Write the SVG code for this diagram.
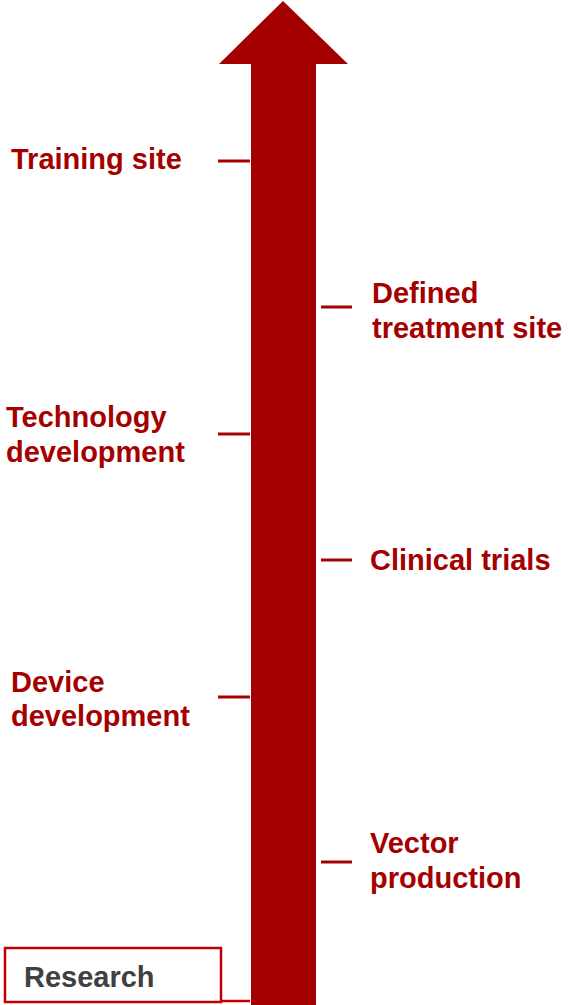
<svg xmlns="http://www.w3.org/2000/svg" width="569" height="1005" viewBox="0 0 569 1005">
<style>
.lbl{font-family:"Liberation Sans",Arial,sans-serif;font-weight:bold;font-size:29px;fill:#a50000}
.tick{stroke:#a50000;stroke-width:3;fill:none}
</style>
<rect width="569" height="1005" fill="#ffffff"/>
<g id="arrow">
<polygon points="283,1 348,64 316,64 316,1005 251,1005 251,64 219,64" fill="#a50000"/>
</g>
<g id="connectors">
<line class="tick" x1="218" y1="161" x2="250" y2="161"/>
<line class="tick" x1="321" y1="307" x2="352" y2="307"/>
<line class="tick" x1="218" y1="434" x2="250" y2="434"/>
<line class="tick" x1="321" y1="560" x2="352" y2="560"/>
<line class="tick" x1="218" y1="697" x2="250" y2="697"/>
<line class="tick" x1="321" y1="862" x2="352" y2="862"/>
<line x1="221" y1="1001" x2="250" y2="1001" stroke="#c00000" stroke-width="2.5"/>
</g>
<g id="training-site"><text class="lbl" x="11" y="169">Training site</text></g>
<g id="defined-treatment-site"><text class="lbl" x="372" y="303">Defined</text><text class="lbl" x="372" y="338">treatment site</text></g>
<g id="technology-development"><text class="lbl" x="6" y="427">Technology</text><text class="lbl" x="6" y="462">development</text></g>
<g id="clinical-trials"><text class="lbl" x="370" y="570">Clinical trials</text></g>
<g id="device-development"><text class="lbl" x="11" y="692">Device</text><text class="lbl" x="11" y="726">development</text></g>
<g id="vector-production"><text class="lbl" x="370" y="853">Vector</text><text class="lbl" x="370" y="888">production</text></g>
<g id="research">
<rect x="5" y="948" width="216" height="54" fill="#ffffff" stroke="#c00000" stroke-width="2.5"/>
<text x="24" y="987" style="font-family:'Liberation Sans',Arial,sans-serif;font-weight:bold;font-size:29px;fill:#404040">Research</text>
</g>
</svg>
